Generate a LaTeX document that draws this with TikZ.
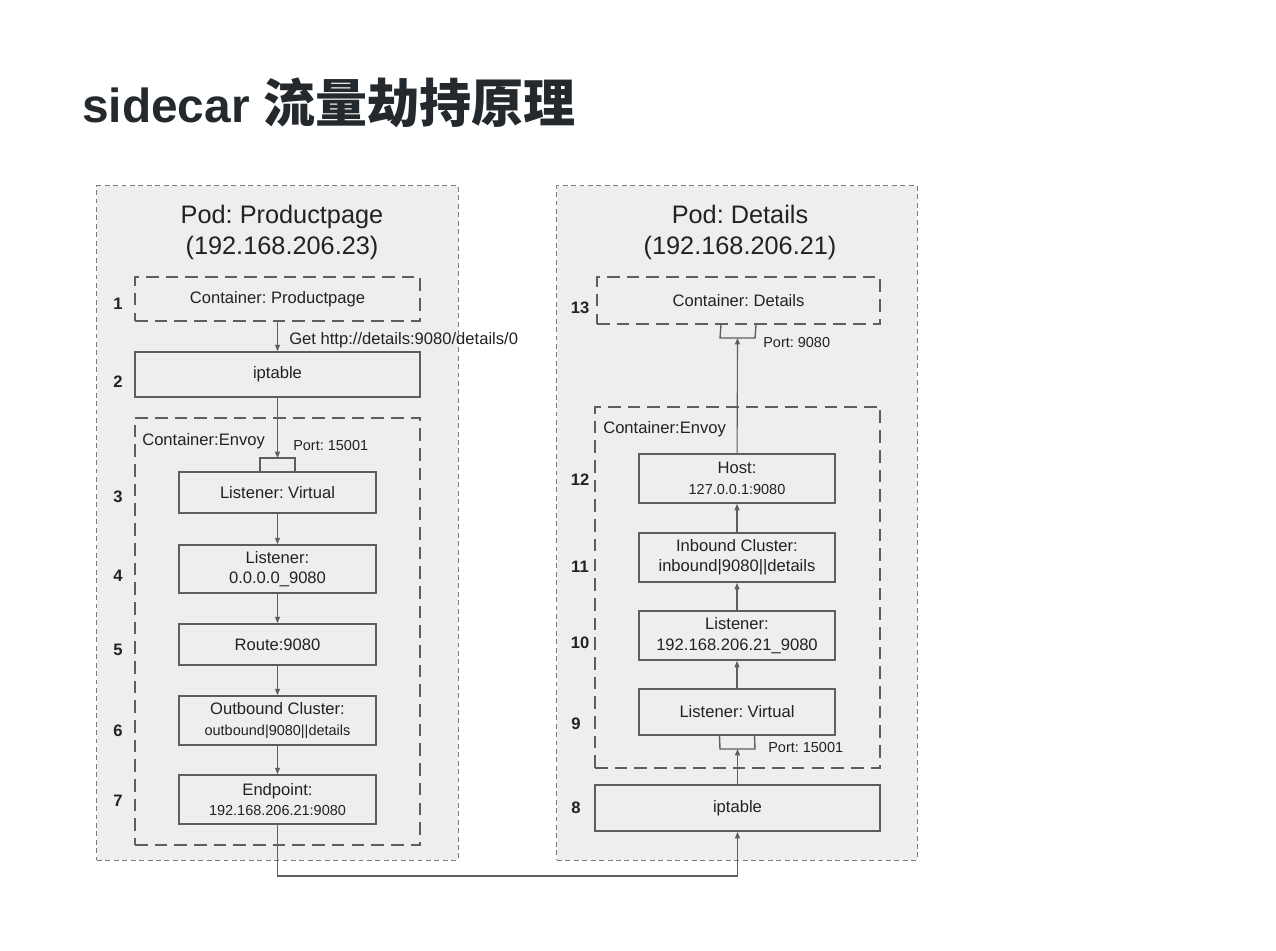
\documentclass[tikz,border=0pt]{standalone}
\usepackage{fontspec}
\setmainfont{Liberation Sans}
\newfontfamily\cjk{Noto Sans CJK SC}
\usetikzlibrary{arrows.meta}
\frenchspacing
\definecolor{podfill}{HTML}{EEEEEE}
\definecolor{podline}{HTML}{7A7A7A}
\definecolor{boxline}{HTML}{5E5E5E}
\definecolor{ink}{HTML}{222222}
\definecolor{titleink}{HTML}{24292E}

\begin{document}
\begin{tikzpicture}[x=0.025cm,y=-0.025cm,
    pod/.style={draw=podline,fill=podfill,line width=0.75pt,dash pattern=on 3.5pt off 2.5pt},
    container/.style={draw=boxline,line width=1.6pt,dash pattern=on 9pt off 5pt,
        minimum width=7.125cm,text=ink,font=\fontsize{11.8}{14.5}\selectfont},
    stagebox/.style={draw=boxline,line width=1.3pt,align=center,minimum width=4.925cm,
        text=ink,font=\fontsize{11.8}{14.5}\selectfont},
    small/.style={font=\fontsize{10.3}{12}\selectfont,text=ink,inner sep=0pt},
    label/.style={font=\fontsize{11.8}{14}\selectfont,text=ink,inner sep=0pt},
    podtitle/.style={font=\fontsize{18}{22}\selectfont,text=ink,inner sep=0pt,anchor=base},
    stepno/.style={font=\fontsize{11.8}{14}\selectfont\bfseries,text=ink,inner sep=0pt}]

    \fill[white] (0,0) rectangle (1276,950);

    \node (title) [anchor=base west,inner sep=0pt,text=titleink]
        at (82,122) {\fontsize{34}{40}\selectfont\bfseries sidecar {\cjk\fontsize{37}{40}\selectfont 流量劫持原理}};

    % pods
    \node (pod-pp) [pod,minimum width=9.025cm,minimum height=16.85cm] at (277.5,523) {};
    \node (pod-dt) [pod,minimum width=9cm,minimum height=16.85cm] at (737,523) {};
    \node (pod-pp-name) [podtitle] at (282,223) {Pod: Productpage};
    \node (pod-pp-ip) [podtitle] at (282,254) {(192.168.206.23)};
    \node (pod-dt-name) [podtitle] at (740,223) {Pod: Details};
    \node (pod-dt-ip) [podtitle] at (740,254) {(192.168.206.21)};

    % productpage side
    \node (ctr-pp) [container,minimum height=1.1cm] at (277.5,299) {Container: Productpage};
    \node (ipt-pp) [stagebox,minimum width=7.125cm,minimum height=1.125cm] at (277.5,374.5) {iptable};
    \node (envoy-pp) [container,minimum height=10.675cm] at (277.5,631.5) {};
    \node (envoy-pp-name) [label,anchor=west] at (142,441) {Container:Envoy};
    \node (lv-pp) [stagebox,minimum height=1.025cm] at (277.5,492.5) {Listener: Virtual};
    \node (l9080-pp) [stagebox,minimum height=1.2cm] at (277.5,569) {Listener:\\0.0.0.0\_9080};
    \node (route-pp) [stagebox,minimum height=1.025cm] at (277.5,644.5) {Route:9080};
    \node (oc-pp) [stagebox,minimum height=1.225cm] at (277.5,720.5)
        {Outbound Cluster:\\{\fontsize{10.3}{12}\selectfont outbound|9080||details}};
    \node (ep-pp) [stagebox,minimum height=1.225cm] at (277.5,799.5)
        {Endpoint:\\{\fontsize{10.3}{12}\selectfont 192.168.206.21:9080}};
    \coordinate (port-pp) at (277.5,458);
    \node (port-pp-name) [small,anchor=west] at (293,446) {Port: 15001};
    \node (get-url) [label,anchor=west] at (289,340) {Get http://details:9080/details/0};

    % details side
    \node (ctr-dt) [container,minimum width=7.075cm,minimum height=1.175cm] at (738.5,300.5) {Container: Details};
    \node (envoy-dt) [container,minimum height=9.025cm] at (737.5,587.5) {};
    \node (envoy-dt-name) [label,anchor=west] at (603,429) {Container:Envoy};
    \node (host-dt) [stagebox,minimum width=4.9cm,minimum height=1.225cm] at (737,478.5)
        {Host:\\{\fontsize{10.3}{12}\selectfont 127.0.0.1:9080}};
    \node (ic-dt) [stagebox,minimum width=4.9cm,minimum height=1.225cm] at (737,557.5)
        {Inbound Cluster:\\inbound|9080||details};
    \node (l9080-dt) [stagebox,minimum width=4.9cm,minimum height=1.225cm] at (737,635.5)
        {Listener:\\192.168.206.21\_9080};
    \node (lv-dt) [stagebox,minimum width=4.9cm,minimum height=1.15cm] at (737,712) {Listener: Virtual};
    \node (ipt-dt) [stagebox,minimum width=7.125cm,minimum height=1.15cm] at (737.5,808) {iptable};
    \coordinate (port9080-dt) at (737.5,338);
    \coordinate (port15001-dt) at (737.5,749);
    \node (port9080-dt-name) [small,anchor=west] at (763,343) {Port: 9080};
    \node (port15001-dt-name) [small,anchor=west] at (768,747) {Port: 15001};

    % step numbers
    \begin{scope}[every node/.style={stepno}]
        \node (n1) at (118,304) {1};
        \node (n2) at (118,382) {2};
        \node (n3) at (118,497) {3};
        \node (n4) at (118,576) {4};
        \node (n5) at (118,650) {5};
        \node (n6) at (118,731) {6};
        \node (n7) at (118,801) {7};
        \node (n8) at (576,808) {8};
        \node (n9) at (576,724) {9};
        \node (n10) at (580,643) {10};
        \node (n11) at (580,567) {11};
        \node (n12) at (580,480) {12};
        \node (n13) at (580,308) {13};
    \end{scope}

    % port brackets
    \begin{scope}[draw=boxline,line width=1pt]
        \draw ([xshift=-0.4375cm]lv-pp.north) -- ([xshift=-0.4375cm]port-pp)
            -- ([xshift=0.4375cm]port-pp) -- ([xshift=0.4375cm]lv-pp.north);
        \draw ([xshift=-0.4375cm]ctr-dt.south) -- ([xshift=-0.4375cm]port9080-dt)
            -- ([xshift=0.4375cm]port9080-dt) -- ([xshift=0.4375cm]ctr-dt.south);
        \draw ([xshift=-0.4375cm]lv-dt.south) -- ([xshift=-0.4375cm]port15001-dt)
            -- ([xshift=0.4375cm]port15001-dt) -- ([xshift=0.4375cm]lv-dt.south);
    \end{scope}

    \begin{scope}[>={Triangle[length=4.5pt,width=3.5pt]},
                  every edge/.style={draw=boxline,line width=0.8pt,->}]
        \path (ctr-pp) edge (ipt-pp);
        \path (ipt-pp) edge (port-pp);
        \path (lv-pp) edge (l9080-pp);
        \path (l9080-pp) edge (route-pp);
        \path (route-pp) edge (oc-pp);
        \path (oc-pp) edge (ep-pp);
        \path (ipt-dt) edge (port15001-dt);
        \path (lv-dt) edge (l9080-dt);
        \path (l9080-dt) edge (ic-dt);
        \path (ic-dt) edge (host-dt);
        \path (host-dt) edge (port9080-dt);
    \end{scope}

    \coordinate (bend) at (277.5,876);
    \draw[draw=boxline,line width=0.8pt,-{Triangle[length=4.5pt,width=3.5pt]}]
        (ep-pp.south) -- (bend) -| (ipt-dt.south);
\end{tikzpicture}
\end{document}
